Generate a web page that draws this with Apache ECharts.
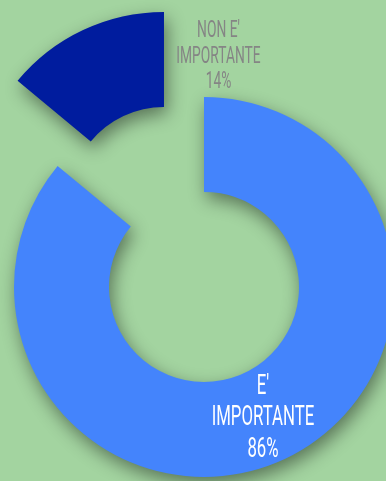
<!DOCTYPE html>
<html><head><meta charset="utf-8">
<style>html,body{margin:0;padding:0;background:#a3d4a0;}#c{width:386px;height:481px;}</style>
<script src="https://cdn.jsdelivr.net/npm/echarts@6/dist/echarts.min.js"></script>
</head><body><div id="c"></div>
<script>
const categories = ["E'\nIMPORTANTE", "NON E'\nIMPORTANTE"];
const values = [86, 14];
const colors = ['#4484fc', '#001c9e'];
const labelColors = ['#ffffff', '#858585'];

const chart = echarts.init(document.getElementById('c'), null, {renderer: 'canvas'});
const labelSpec = [
  {x: 263, y: 418, size: 28, lh: 31.5},
  {x: 218.5, y: 57, size: 23, lh: 25.5}
];
chart.setOption({
  backgroundColor: '#a3d4a0',
  animation: false,
  series: [{
    type: 'pie',
    center: [204, 287],
    radius: [95, 190],
    startAngle: 90,
    clockwise: true,
    selectedMode: 'single',
    selectedOffset: 94,
    emphasis: {disabled: true},
    itemStyle: {
      shadowBlur: 18,
      shadowOffsetX: 3,
      shadowOffsetY: 7,
      shadowColor: 'rgba(0,0,0,0.45)'
    },
    labelLine: {show: false},
    label: {show: false},
    data: categories.map((c, i) => ({
      name: c,
      value: values[i],
      selected: i === 1,
      itemStyle: {color: colors[i]}
    }))
  }],
  graphic: categories.map((c, i) => ({
    type: 'text',
    x: labelSpec[i].x,
    y: labelSpec[i].y,
    scaleX: 0.6,
    z: 100,
    style: {
      text: c + '\n' + values[i] + '%',
      fill: labelColors[i],
      fontFamily: 'Roboto',
      fontWeight: 400,
      fontSize: labelSpec[i].size,
      lineHeight: labelSpec[i].lh,
      textAlign: 'center',
      textVerticalAlign: 'middle'
    }
  }))
});
</script></body></html>
